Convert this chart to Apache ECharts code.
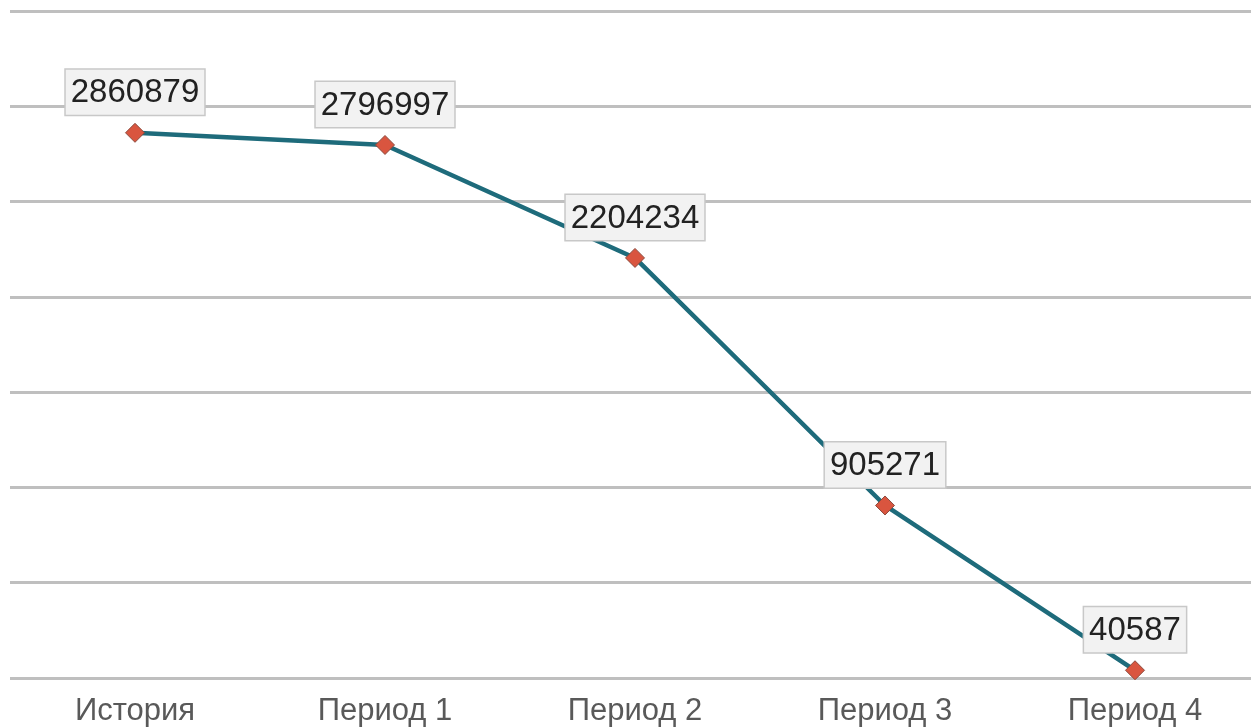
<!DOCTYPE html>
<html>
<head>
<meta charset="utf-8">
<script src="https://cdn.jsdelivr.net/npm/echarts@6/dist/echarts.min.js"></script>
<style>html,body{margin:0;padding:0;background:#fff;overflow:hidden}#c{width:1260px;height:728px}</style>
</head>
<body>
<div id="c"></div>
<script>
const categories = ['История', 'Период 1', 'Период 2', 'Период 3', 'Период 4'];
const values = [2860879, 2796997, 2204234, 905271, 40587];
const yMin = 0, yMax = 3500000, yInterval = 500000;

const chart = echarts.init(document.getElementById('c'), null, {renderer: 'canvas'});
chart.setOption({
  animation: false,
  backgroundColor: '#ffffff',
  grid: {left: 10, right: 0, top: 11, bottom: 50, containLabel: false},
  xAxis: {
    type: 'category',
    data: categories,
    boundaryGap: true,
    axisLine: {show: false},
    axisTick: {show: false},
    axisLabel: {color: '#595959', fontSize: 31, fontFamily: 'Liberation Sans, Arial, sans-serif', margin: 18}
  },
  yAxis: {
    type: 'value',
    min: yMin, max: yMax, interval: yInterval,
    axisLabel: {show: false},
    axisLine: {show: false},
    axisTick: {show: false},
    splitLine: {lineStyle: {color: '#bfbfbf', width: 3}}
  },
  series: [{
    type: 'line',
    data: values,
    symbol: 'diamond',
    symbolSize: 19,
    itemStyle: {color: '#d9553f', borderColor: '#8c4b3e', borderWidth: 1},
    lineStyle: {color: '#1e6b7b', width: 4.5},
    label: {
      show: true,
      position: 'top',
      distance: 8,
      color: '#222222',
      fontSize: 33,
      fontFamily: 'Liberation Sans, Arial, sans-serif',
      backgroundColor: '#f2f2f2',
      borderColor: '#c8c8c8',
      borderWidth: 1.5,
      padding: [7, 5, 5, 5]
    }
  }]
});
</script>
</body>
</html>
